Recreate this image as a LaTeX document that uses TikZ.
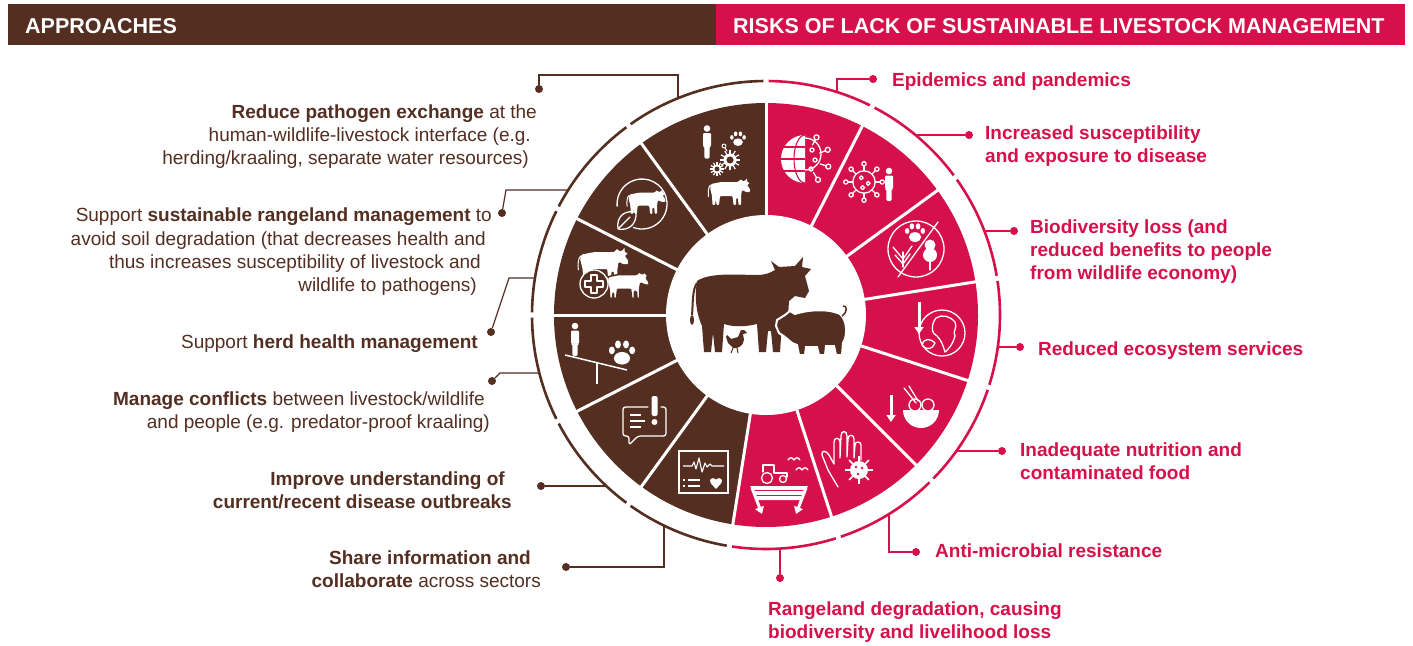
\documentclass[tikz,border=0pt]{standalone}
\usepackage{fontspec}
\setmainfont{Liberation Sans}
\usetikzlibrary{arrows.meta}
\definecolor{brownc}{RGB}{83,46,33}
\definecolor{pinkc}{RGB}{214,16,74}

\tikzset{
  ico/.style={draw=white, line width=1.3pt, line cap=round, line join=round},
  connb/.style={draw=brownc, line width=1.2pt},
  connp/.style={draw=pinkc, line width=1.2pt},
  dotb/.style={circle, fill=brownc, inner sep=0pt, minimum size=8pt},
  dotp/.style={circle, fill=pinkc, inner sep=0pt, minimum size=8pt},
  hdr/.style={anchor=base west, text=white, inner sep=0pt, font=\bfseries\fontsize{21.5}{24}\selectfont},
  ltxt/.style={anchor=base east, text=brownc, inner sep=0pt, font=\fontsize{19}{23}\selectfont},
  rtxt/.style={anchor=base west, text=pinkc, inner sep=0pt, font=\bfseries\fontsize{19}{23}\selectfont},
  cowi/.pic={
    \path[pic actions, rounded corners=1pt] (-18,-7) -- (-8,-9) -- (9,-9) -- (12,-12) -- (13,-10) -- (16,-10)
      -- (18,-13) -- (18,-9) -- (21,-8) -- (18,-6) -- (21,-2) -- (21,1) -- (17,1) -- (13,-1) -- (12,5)
      -- (12,14) -- (9.5,14) -- (9,7) -- (7,7) -- (7,14) -- (4.5,14) -- (3.5,5) -- (-9,5) -- (-10,14)
      -- (-12.5,14) -- (-13,8) -- (-14,14) -- (-16.5,14) -- (-17,5) -- (-19,-3) -- cycle;
    \draw[white, line width=1pt] (-18.5,-6) .. controls (-21,-4) and (-21,2) .. (-20.5,6);
  },
  person/.pic={
    \fill[white] (0,-13) circle[radius=3.3];
    \fill[white, rounded corners=1.2pt] (-4,-8.5) -- (4,-8.5) -- (4,5) -- (2.6,5) -- (2.6,17)
      -- (-2.6,17) -- (-2.6,5) -- (-4,5) -- cycle;
  },
  paw/.pic={
    \fill[white] (0,3) ellipse[x radius=4.6, y radius=3.6];
    \fill[white] (-5.8,-1.5) ellipse[x radius=1.7, y radius=2.2];
    \fill[white] (-2.3,-4.9) ellipse[x radius=1.7, y radius=2.3];
    \fill[white] (2.3,-4.9) ellipse[x radius=1.7, y radius=2.3];
    \fill[white] (5.8,-1.5) ellipse[x radius=1.7, y radius=2.2];
  },
  virus/.pic={
    \draw[ico] (0,0) circle[radius=8];
    \foreach \a in {0,45,...,315}{
      \draw[ico] (\a:8) -- (\a:11.5);
      \draw[ico] (\a:13) circle[radius=1.5];
    }
    \draw[ico] (-2,-3) circle[radius=1.4];
    \draw[ico] (3,1) circle[radius=1.4];
    \draw[ico] (-1,4) circle[radius=1.4];
  },
  gear/.pic={
    \fill[white] (0,0) circle[radius=6];
    \foreach \a in {0,30,...,330}{ \draw[white, line width=1.2pt] (0,0) -- (\a:9.5); }
    \fill[brownc] (0,0) circle[radius=3.2];
  }
}

\begin{document}
\begin{tikzpicture}[x=1pt, y=-1pt]
\useasboundingbox (0,0) rectangle (1413,645);
\fill[white] (0,0) rectangle (1413,645);

% ---------- header bars ----------
\fill[brownc] (8,4) rectangle (716,45);
\fill[pinkc] (716,4) rectangle (1405,45);
\node[hdr] (hl) at (25,33.5) {APPROACHES};
\node[hdr] (hr) at (733,33.5) {RISKS OF LACK OF SUSTAINABLE LIVESTOCK MANAGEMENT};

% ---------- wheel ----------
\begin{scope}[shift={(766,315)}]
  \fill[brownc] (0,0) -- (99:212) arc[start angle=99, end angle=270, radius=212] -- cycle;
  \fill[pinkc] (0,0) -- (-90:212) arc[start angle=-90, end angle=99, radius=212] -- cycle;
  \foreach \a in {-90,-63,-36,-9,18,45,72,99,126,153,180,207,234}
    \draw[white, line width=3pt] (0,0) -- (\a:216);
  \fill[white] (0,0) circle[radius=100];
  % outer ring, broken at every sector boundary
  \foreach \a/\b/\c in {-90/-63/pinkc,-63/-36/pinkc,-36/-9/pinkc,-9/18/pinkc,18/45/pinkc,45/72/pinkc,
      72/99/pinkc,99/126/brownc,126/153/brownc,153/180/brownc,180/207/brownc,207/234/brownc,234/270/brownc}{
    \pgfmathsetmacro{\s}{\a+0.65}
    \pgfmathsetmacro{\e}{\b-0.65}
    \draw[\c, line width=2.6pt] (\s:234) arc[start angle=\s, end angle=\e, radius=234];
  }
\end{scope}

% ---------- centre animals ----------
\fill[brownc] (697,281) .. controls (710,272) and (740,275) .. (757,275)
  .. controls (765,275) and (770,273) .. (775,270) -- (771,261) -- (779,267) -- (795,266) -- (803,257)
  -- (802,267) -- (811,269) -- (805,276) -- (809,291) -- (805,298) -- (795,296) -- (789,301)
  -- (788,317) -- (782,323) -- (780,352) -- (773,352) -- (771,331) -- (768,331) -- (766,352)
  -- (759,352) -- (757,324) .. controls (745,327) and (733,327) .. (724,324) -- (722,352)
  -- (715,352) -- (713,333) -- (711,352) -- (704,352) -- (702,326)
  .. controls (697,315) and (694,300) .. cycle;
\draw[brownc, line width=2pt] (697,283) .. controls (692,290) and (693,305) .. (692,315);
\fill[brownc] (692,320) ellipse[x radius=2, y radius=5];
\filldraw[fill=brownc, draw=white, line width=2pt] (776,326) -- (777,320) -- (785,315) -- (790,311)
  -- (795,314) .. controls (810,309) and (830,309) .. (840,314) .. controls (847,320) and (848,335) .. (843,343)
  -- (842,355) -- (836,355) -- (834,346) -- (826,346) -- (825,355) -- (819,355) -- (817,347)
  -- (806,347) -- (805,355) -- (799,355) -- (797,345) -- (792,343) -- (785,337) -- (779,333) -- cycle;
\draw[brownc, line width=1.5pt] (842,316) .. controls (848,312) and (847,305) .. (843,306);
\fill[brownc] (727,335) -- (731,339) -- (738,337) -- (741,330) -- (744,330) -- (747,333) -- (743,334)
  -- (744,340) .. controls (743,346) and (738,349) .. (733,348) -- (728,343) -- (726,337) -- cycle;
\draw[brownc, line width=1pt] (733,348) -- (731,353) (737,348) -- (738,353);

% ---------- sector icons: approaches ----------
\pic at (707,141.5) {person};
\pic[scale=1.05] at (738,139) {paw};
\pic[scale=1.1] at (730,160) {gear};
\pic[scale=0.75] at (717,169) {gear};
\draw[ico, line width=1pt] (724,146) circle[radius=2] (725,148) -- (727,151);
\pic[fill=white] at (729,191) {cowi};

\draw[ico] (642,204) ++(175:25) arc[start angle=175, end angle=470, radius=25];
\pic[fill=white, scale=0.92] at (646,201) {cowi};
\draw[ico] (618,229) .. controls (616,216) and (625,210) .. (636,212) .. controls (637,224) and (629,231) .. (618,229);
\draw[ico] (619,228) -- (630,217);

\pic[fill=white, scale=1.2] at (603,263) {cowi};
\pic[fill=white, draw=brownc, line width=1.5pt, scale=1.05] at (627,284) {cowi};
\filldraw[fill=brownc, draw=white, line width=1.3pt] (594,284) circle[radius=14];
\draw[ico] (591,275) -- (597,275) -- (597,281) -- (603,281) -- (603,287) -- (597,287) -- (597,293)
  -- (591,293) -- (591,287) -- (585,287) -- (585,281) -- (591,281) -- cycle;

\pic at (575,339) {person};
\draw[white, line width=1.5pt] (565,355) -- (627,370);
\draw[white, line width=1.5pt] (597,363) -- (597,384);
\pic[scale=1.75] at (622,353) {paw};

\draw[ico, rounded corners=2.5pt] (648,407) -- (623,407) -- (623,436) -- (629,436) -- (629,445)
  -- (638,436) -- (666,436) -- (666,407) -- (661,407);
\fill[white, rounded corners=1.5pt] (651.5,396) rectangle (657.5,416);
\fill[white] (654.5,422) circle[radius=3];
\draw[white, line width=1.2pt] (630,415) -- (641,415) (630,421) -- (645,421) (630,427) -- (641,427);

\draw[white, line width=1.4pt] (679,451) rectangle (728,493);
\draw[white, line width=1.1pt, line join=round] (683,466) -- (692,466) -- (694,462) -- (696,469) -- (699,458)
  -- (702,472) -- (705,463) -- (707,467) -- (710,464) -- (712,466) -- (724,466);
\draw[white, line width=1.2pt] (683,480) -- (685,480) (688,480) -- (700,480) (683,486) -- (685,486) (688,486) -- (700,486);
\fill[white] (716,489) -- (711,483.5) .. controls (708,480) and (712,476) .. (716,479.5)
  .. controls (720,476) and (724,480) .. (721,483.5) -- cycle;

% ---------- sector icons: risks ----------
% half globe, half virus
\fill[white] (805,135) arc[start angle=-90, end angle=-270, radius=24] -- cycle;
\draw[pinkc, line width=1.1pt] (805,135) arc[start angle=-90, end angle=-270, x radius=11, y radius=24];
\draw[pinkc, line width=1.1pt] (783,147) -- (805,147) (781,159) -- (805,159) (783,171) -- (805,171);
\draw[ico] (805,138) arc[start angle=-90, end angle=90, radius=16];
\foreach \a in {-62,-22,18,58}{
  \draw[ico] (805,159) ++(\a:16) -- ++(\a:6);
  \draw[ico] (805,159) ++(\a:24.5) circle[radius=2.5];
}
\draw[ico] (812,150) circle[radius=2] (815,160) circle[radius=2] (811,169) circle[radius=2];

\pic[scale=1.4] at (864,182) {virus};
\pic at (889,184) {person};

% crossed circle: paw, sprout, tree
\draw[ico] (916,249) circle[radius=28];
\draw[ico] (938,222) -- (898,277);
\pic[scale=1.35] at (915,233) {paw};
\draw[ico] (903,267) -- (903,252);
\draw[ico] (893,247) -- (903,259) -- (912,246);
\draw[ico] (895,255) -- (903,264) -- (910,254);
\fill[white] (930,245) circle[radius=5.5] (930,255) circle[radius=7];
\draw[ico] (930,258) -- (930,270);

\draw[white, line width=3pt, -{Triangle[width=9pt,length=7pt]}] (919,302) -- (919,334);
\draw[ico] (942,333) circle[radius=23];
\draw[ico] (936,318) .. controls (942,314) and (950,316) .. (955,322) .. controls (958,328) and (952,331) .. (955,336)
  .. controls (953,344) and (948,350) .. (945,352) .. controls (943,345) and (941,340) .. (937,336)
  .. controls (931,334) and (931,324) .. (936,318);
\draw[ico] (922,345) .. controls (924,338) and (930,338) .. (935,343) .. controls (933,349) and (927,351) .. (922,345);

\draw[white, line width=3pt, -{Triangle[width=9pt,length=7pt]}] (891,395) -- (891,422);
\fill[white] (903,410) arc[start angle=180, end angle=0, radius=18] -- cycle;
\filldraw[fill=pinkc, draw=white, line width=1.3pt] (915,405) circle[radius=6];
\filldraw[fill=pinkc, draw=white, line width=1.3pt] (928,405) circle[radius=6];
\draw[ico] (904,388) -- (916,403) (909,386) -- (918,401);

\draw[ico] (838,487) -- (828,470) -- (822,455) .. controls (821,450) and (826,450) .. (829,455) -- (834,464)
  -- (834,442) .. controls (834,437) and (840,437) .. (840,442) -- (840,458) -- (841,436)
  .. controls (841,430) and (847,430) .. (847,436) -- (847,457) -- (848,439)
  .. controls (848,434) and (854,434) .. (854,439) -- (854,458) -- (855,445)
  .. controls (855,441) and (861,441) .. (861,445) -- (861,460);
\fill[white] (859,470) circle[radius=9];
\foreach \a in {0,45,...,315}{
  \draw[white, line width=1.5pt] (859,470) ++(\a:8) -- ++(\a:6);
}
\fill[pinkc] (856,467) circle[radius=1.3] (862,468) circle[radius=1.3] (858,474) circle[radius=1.3];

\draw[ico] (767,478) circle[radius=5.5] (783,479) circle[radius=3.5];
\draw[ico] (763,472) -- (763,465) -- (774,465) -- (774,473) (774,473) -- (787,473) -- (787,477);
\draw[ico] (788,460) .. controls (790,457) and (792,457) .. (794,460) .. controls (796,457) and (798,457) .. (800,460);
\draw[ico] (796,470) .. controls (798,467) and (800,467) .. (802,470) .. controls (804,467) and (806,467) .. (808,470);
\fill[white] (750,486) -- (808,486) -- (800,500) -- (758,500) -- cycle;
\draw[pinkc, line width=1.2pt] (754,490.5) -- (804,490.5) (756,495.5) -- (802,495.5);
\draw[white, line width=3pt, -{Triangle[width=9pt,length=7pt]}] (752,488) -- (762,514);
\draw[white, line width=3pt, -{Triangle[width=9pt,length=7pt]}] (806,488) -- (796,514);

% ---------- connectors ----------
\node[dotb] (dl1) at (539,89) {};
\node[dotb] (dl2) at (502,213) {};
\node[dotb] (dl3) at (491,332) {};
\node[dotb] (dl4) at (492,381) {};
\node[dotb] (dl5) at (541,486) {};
\node[dotb] (dl6) at (566,567) {};
\coordinate (rl1) at (678,98);
\coordinate (rl2) at (568,190);
\coordinate (rl3) at (535,278);
\coordinate (rl4) at (539,373);
\coordinate (rl5) at (606,486);
\coordinate (rl6) at (664,526);
\draw[connb] (rl1) -- (678,75) -- (539,75) -- (dl1);
\draw[connb] (rl2) -- (506,190) -- (dl2);
\draw[connb] (rl3) -- (509,278) -- (dl3);
\draw[connb] (rl4) -- (500,373) -- (dl4);
\draw[connb] (rl5) -- (dl5);
\draw[connb] (rl6) -- (664,567) -- (dl6);

\node[dotp] (dr1) at (873,79) {};
\node[dotp] (dr2) at (969,135) {};
\node[dotp] (dr3) at (1014,231) {};
\node[dotp] (dr4) at (1020,347) {};
\node[dotp] (dr5) at (1002,451) {};
\node[dotp] (dr6) at (916,552) {};
\node[dotp] (dr7) at (780,578) {};
\coordinate (rr1) at (837,92);
\coordinate (rr2) at (917,135);
\coordinate (rr3) at (984,231);
\coordinate (rr4) at (998,347);
\coordinate (rr5) at (956,451);
\coordinate (rr6) at (889,514);
\coordinate (rr7) at (780,549);
\draw[connp] (rr1) -- (837,79) -- (dr1);
\draw[connp] (rr2) -- (dr2);
\draw[connp] (rr3) -- (dr3);
\draw[connp] (rr4) -- (dr4);
\draw[connp] (rr5) -- (dr5);
\draw[connp] (rr6) -- (889,552) -- (dr6);
\draw[connp] (rr7) -- (dr7);

% ---------- approaches text ----------
\node[ltxt] (t1a) at (537,118.5) {\textbf{Reduce pathogen exchange} at the};
\node[ltxt] (t1b) at (531,141.5) {human-wildlife-livestock interface (e.g.};
\node[ltxt] (t1c) at (529,164.5) {herding/kraaling, separate water resources)};
\node[ltxt] (t2a) at (492,221.5) {Support \textbf{sustainable rangeland management} to};
\node[ltxt] (t2b) at (486,245.5) {avoid soil degradation (that decreases health and};
\node[ltxt] (t2c) at (481,268.5) {thus increases susceptibility of livestock and};
\node[ltxt] (t2d) at (477,291.5) {wildlife to pathogens)};
\node[ltxt] (t3a) at (478,348.5) {Support \textbf{herd health management}};
\node[ltxt] (t4a) at (485,405.5) {\textbf{Manage conflicts} between livestock/wildlife};
\node[ltxt] (t4b) at (490,428.5) {and people (e.g. predator-proof kraaling)};
\node[ltxt] (t5a) at (505,485.5) {\textbf{Improve understanding of}};
\node[ltxt] (t5b) at (512,508.5) {\textbf{current/recent disease outbreaks}};
\node[ltxt] (t6a) at (531,564.5) {\textbf{Share information and}};
\node[ltxt] (t6b) at (541,587.5) {\textbf{collaborate} across sectors};

% ---------- risks text ----------
\node[rtxt] (s1a) at (892,86.5) {Epidemics and pandemics};
\node[rtxt] (s2a) at (985,139.5) {Increased susceptibility};
\node[rtxt] (s2b) at (985,162.5) {and exposure to disease};
\node[rtxt] (s3a) at (1030,233.5) {Biodiversity loss (and};
\node[rtxt] (s3b) at (1030,256.5) {reduced benefits to people};
\node[rtxt] (s3c) at (1030,279.5) {from wildlife economy)};
\node[rtxt] (s4a) at (1038,355.5) {Reduced ecosystem services};
\node[rtxt] (s5a) at (1020,456.5) {Inadequate nutrition and};
\node[rtxt] (s5b) at (1020,479.5) {contaminated food};
\node[rtxt] (s6a) at (935,557.5) {Anti-microbial resistance};
\node[rtxt] (s7a) at (768,615.5) {Rangeland degradation, causing};
\node[rtxt] (s7b) at (768,638.5) {biodiversity and livelihood loss};
\end{tikzpicture}
\end{document}
